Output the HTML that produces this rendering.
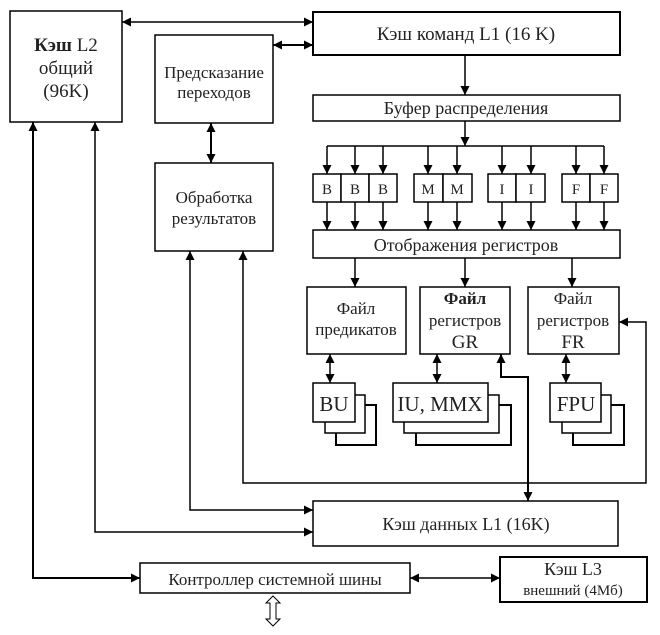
<!DOCTYPE html>
<html><head><meta charset="utf-8"><style>
html,body{margin:0;padding:0;background:#fff;}
svg text{font-family:"Liberation Serif","DejaVu Serif",serif;fill:#222;}
</style></head><body>
<svg width="660" height="630" viewBox="0 0 660 630" xmlns="http://www.w3.org/2000/svg">
<defs>
<marker id="a" viewBox="0 0 10 10" refX="10" refY="5" markerWidth="9" markerHeight="9" markerUnits="userSpaceOnUse" orient="auto-start-reverse"><path d="M0,0L10,5L0,10z" fill="#000"/></marker>
</defs>
<g fill="#fff" stroke="#000" stroke-width="1.5">
<rect x="10" y="11" width="112" height="111"/>
<rect x="313" y="12" width="307" height="43" stroke-width="2"/>
<rect x="155" y="35" width="118" height="88"/>
<rect x="155" y="163" width="118" height="88"/>
<rect x="313" y="95" width="307" height="26"/>
<rect x="313" y="174" width="28" height="28"/><rect x="341" y="174" width="28" height="28"/><rect x="369" y="174" width="28" height="28"/>
<rect x="414" y="174" width="29" height="28"/><rect x="443" y="174" width="29" height="28"/>
<rect x="488" y="174" width="28" height="28"/><rect x="516" y="174" width="29" height="28"/>
<rect x="562" y="174" width="28" height="28"/><rect x="590" y="174" width="28" height="28"/>
<rect x="313" y="230" width="307" height="28"/>
<rect x="307" y="287" width="99" height="67"/>
<rect x="420" y="287" width="90" height="67"/>
<rect x="528" y="287" width="91" height="67"/>
<rect x="336" y="405" width="40" height="40" stroke-width="2"/>
<rect x="325" y="395" width="40" height="38"/>
<rect x="313" y="383" width="42" height="39"/>
<rect x="416" y="405" width="95" height="40" stroke-width="2"/>
<rect x="404" y="395" width="95" height="38"/>
<rect x="393" y="383" width="95" height="39"/>
<rect x="573" y="405" width="51" height="40" stroke-width="2"/>
<rect x="562" y="395" width="49" height="38"/>
<rect x="550" y="383" width="51" height="39"/>
<rect x="313" y="501" width="305" height="45"/>
<rect x="140" y="563" width="270" height="30"/>
<rect x="500" y="557" width="147" height="45" stroke-width="2"/>
</g>
<g stroke="#000" stroke-width="1.5" fill="none">
<line x1="122" y1="22" x2="313" y2="22" marker-start="url(#a)" marker-end="url(#a)"/>
<line x1="273" y1="45" x2="313" y2="45" marker-start="url(#a)" marker-end="url(#a)" stroke-width="2"/>
<line x1="211" y1="123" x2="211" y2="163" marker-start="url(#a)" marker-end="url(#a)" stroke-width="2"/>
<line x1="465" y1="55" x2="465" y2="95" marker-end="url(#a)"/>
<line x1="465" y1="121" x2="465" y2="146" marker-end="url(#a)"/>
<line x1="327" y1="146" x2="604" y2="146"/>
<g marker-end="url(#a)">
<line x1="327" y1="146" x2="327" y2="174"/><line x1="355" y1="146" x2="355" y2="174"/><line x1="383" y1="146" x2="383" y2="174"/>
<line x1="428" y1="146" x2="428" y2="174"/><line x1="457" y1="146" x2="457" y2="174"/>
<line x1="502" y1="146" x2="502" y2="174"/><line x1="531" y1="146" x2="531" y2="174"/>
<line x1="576" y1="146" x2="576" y2="174"/><line x1="604" y1="146" x2="604" y2="174"/>
<line x1="327" y1="202" x2="327" y2="230"/><line x1="355" y1="202" x2="355" y2="230"/><line x1="383" y1="202" x2="383" y2="230"/>
<line x1="428" y1="202" x2="428" y2="230"/><line x1="457" y1="202" x2="457" y2="230"/>
<line x1="502" y1="202" x2="502" y2="230"/><line x1="531" y1="202" x2="531" y2="230"/>
<line x1="576" y1="202" x2="576" y2="230"/><line x1="604" y1="202" x2="604" y2="230"/>
</g>
<line x1="355" y1="258" x2="355" y2="287" marker-end="url(#a)"/>
<line x1="465" y1="258" x2="465" y2="287" marker-end="url(#a)"/>
<line x1="572" y1="258" x2="572" y2="287" marker-end="url(#a)"/>
<line x1="330" y1="354" x2="330" y2="383" marker-start="url(#a)" marker-end="url(#a)"/>
<line x1="437" y1="354" x2="437" y2="383" marker-start="url(#a)" marker-end="url(#a)"/>
<line x1="566" y1="354" x2="566" y2="383" marker-start="url(#a)" marker-end="url(#a)"/>
<path d="M528 501V377H501V354" marker-start="url(#a)" marker-end="url(#a)" stroke-width="2"/>
<path d="M243 251V483H646V322H619" marker-start="url(#a)" marker-end="url(#a)"/>
<path d="M190 251V510H313" marker-start="url(#a)" marker-end="url(#a)"/>
<path d="M95 122V532H313" marker-start="url(#a)" marker-end="url(#a)"/>
<path d="M33 122V578H140" marker-start="url(#a)" marker-end="url(#a)" stroke-width="2"/>
<line x1="410" y1="578" x2="500" y2="578" marker-start="url(#a)" marker-end="url(#a)"/>
<path d="M273 596L280 603H276V619H280L273 626L266 619H270V603H266Z" stroke-width="1"/>
</g>
<g font-size="17" text-anchor="middle">
<text x="66" y="51" font-size="19"><tspan font-weight="bold">Кэш</tspan> L2</text>
<text x="66" y="74" font-size="19">общий</text>
<text x="66" y="97" font-size="19">(96K)</text>
<text x="466" y="40" font-size="19">Кэш команд L1 (16 K)</text>
<text x="214" y="78">Предсказание</text>
<text x="214" y="98">переходов</text>
<text x="214" y="203">Обработка</text>
<text x="214" y="224">результатов</text>
<text x="466" y="114" font-size="18">Буфер распределения</text>
<g font-size="15">
<text x="327" y="194">B</text><text x="355" y="194">B</text><text x="383" y="194">B</text>
<text x="428" y="194">M</text><text x="457" y="194">M</text>
<text x="502" y="194">I</text><text x="531" y="194">I</text>
<text x="576" y="194">F</text><text x="604" y="194">F</text>
</g>
<text x="466" y="251" font-size="18">Отображения регистров</text>
<text x="356" y="314">Файл</text>
<text x="356" y="335">предикатов</text>
<text x="465" y="304" font-weight="bold">Файл</text>
<text x="465" y="326">регистров</text>
<text x="465" y="348" font-size="19">GR</text>
<text x="573" y="304">Файл</text>
<text x="573" y="326">регистров</text>
<text x="573" y="348" font-size="19">FR</text>
<text x="334" y="411" font-size="21">BU</text>
<text x="440" y="411" font-size="21">IU, MMX</text>
<text x="576" y="411" font-size="21">FPU</text>
<text x="466" y="530" font-size="18">Кэш данных L1 (16K)</text>
<text x="275" y="585">Контроллер системной шины</text>
<text x="573" y="575" font-size="18">Кэш L3</text>
<text x="573" y="595" font-size="15">внешний (4Мб)</text>
</g>
</svg>
</body></html>
